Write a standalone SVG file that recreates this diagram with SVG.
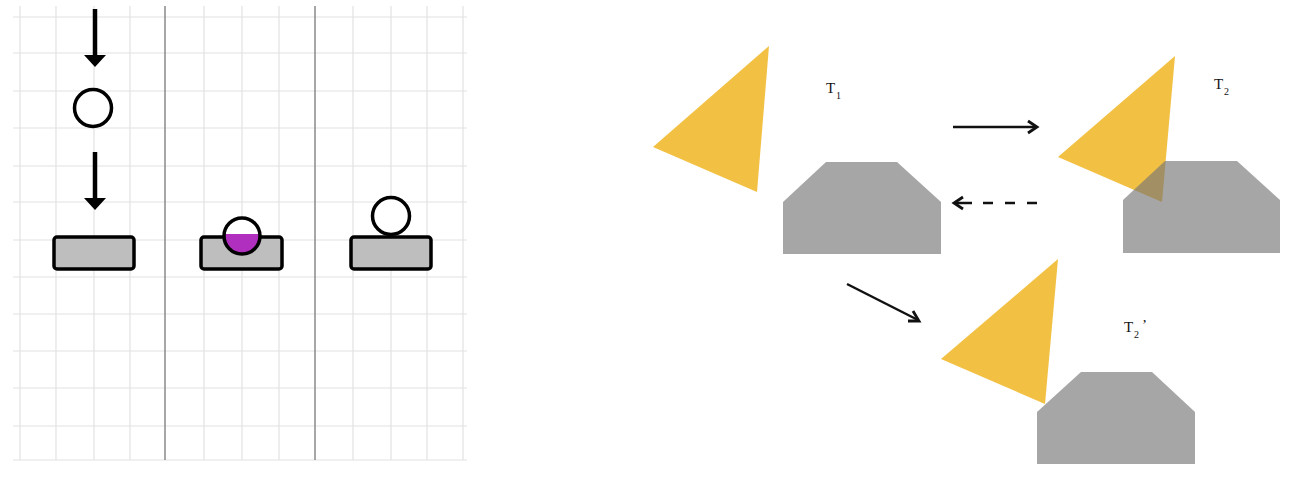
<svg xmlns="http://www.w3.org/2000/svg" width="1290" height="478" viewBox="0 0 1290 478">
<defs>
<style>
.grid{stroke:#e2e2e2;stroke-width:1.2;fill:none}
.div{stroke:#8a8a8a;stroke-width:1.5}
.blk{stroke:#000;stroke-width:4.5;fill:none}
.ball{fill:#fff;stroke:#000;stroke-width:3.5}
.base{fill:#bebebe;stroke:#000;stroke-width:3.5}
.tri{fill:#f2c043}
.blockg{fill:#777777;fill-opacity:0.65}
.lbl{font-family:"Liberation Serif",serif;font-size:15px;fill:#111}
.sub{font-family:"Liberation Serif",serif;font-size:10px;fill:#111}
.conn{stroke:#111;stroke-width:2.5;fill:none}
.head{stroke:#111;stroke-width:2.8;fill:none;stroke-linejoin:miter}
</style>
<clipPath id="ballclip"><circle cx="242" cy="236" r="17.5"/></clipPath>
</defs>
<rect width="1290" height="478" fill="#fff"/>

<g id="grid-panel">
<g class="grid">
<line x1="13" y1="17" x2="467" y2="17"/>
<line x1="13" y1="53" x2="467" y2="53"/>
<line x1="13" y1="91" x2="467" y2="91"/>
<line x1="13" y1="128" x2="467" y2="128"/>
<line x1="13" y1="166" x2="467" y2="166"/>
<line x1="13" y1="202" x2="467" y2="202"/>
<line x1="13" y1="240" x2="467" y2="240"/>
<line x1="13" y1="277" x2="467" y2="277"/>
<line x1="13" y1="314" x2="467" y2="314"/>
<line x1="13" y1="351" x2="467" y2="351"/>
<line x1="13" y1="388" x2="467" y2="388"/>
<line x1="13" y1="426" x2="467" y2="426"/>
<line x1="13" y1="460" x2="467" y2="460"/>
<line x1="20" y1="6" x2="20" y2="460"/>
<line x1="56" y1="6" x2="56" y2="460"/>
<line x1="94" y1="6" x2="94" y2="460"/>
<line x1="130" y1="6" x2="130" y2="460"/>
<line x1="204" y1="6" x2="204" y2="460"/>
<line x1="242" y1="6" x2="242" y2="460"/>
<line x1="279" y1="6" x2="279" y2="460"/>
<line x1="353" y1="6" x2="353" y2="460"/>
<line x1="391" y1="6" x2="391" y2="460"/>
<line x1="427" y1="6" x2="427" y2="460"/>
<line x1="463" y1="6" x2="463" y2="460"/>
</g>
<line class="div" x1="165" y1="6" x2="165" y2="460"/>
<line class="div" x1="315" y1="6" x2="315" y2="460"/>
</g>

<g id="panel1">
<line class="blk" x1="95" y1="9" x2="95" y2="57"/>
<polygon points="84,55 106,55 95,67" fill="#000"/>
<circle class="ball" cx="93" cy="108" r="18.5"/>
<line class="blk" x1="95" y1="152" x2="95" y2="200"/>
<polygon points="84,198 106,198 95,210" fill="#000"/>
<rect class="base" x="54" y="237" width="80" height="32" rx="3"/>
</g>

<g id="panel2">
<rect class="base" x="201" y="237" width="81" height="32" rx="3"/>
<circle cx="242" cy="236" r="17.5" fill="#fff"/>
<rect x="222" y="234" width="40" height="22" fill="#b12fbf" clip-path="url(#ballclip)"/>
<circle cx="242" cy="236" r="18" fill="none" stroke="#000" stroke-width="3.5"/>
</g>

<g id="panel3">
<rect class="base" x="351" y="237" width="80" height="32" rx="3"/>
<circle class="ball" cx="391" cy="216" r="18.5"/>
</g>

<g id="T1">
<polygon class="tri" points="769,46 653,147 757,192"/>
<polygon class="blockg" points="783,254 783,202 826,162 897,162 941,202 941,254"/>
<text class="lbl" x="826" y="93">T</text><text class="sub" x="836" y="99">1</text>
</g>

<g id="T2">
<polygon class="tri" points="1175,56 1058,157 1162,202"/>
<polygon class="blockg" points="1123,253 1123,200 1165,161 1237,161 1280,200 1280,253"/>
<text class="lbl" x="1214" y="89">T</text><text class="sub" x="1224" y="95">2</text>
</g>

<g id="T2p">
<polygon class="tri" points="1058,259 941,359 1045,404"/>
<polygon class="blockg" points="1037,464 1037,412 1081,372 1152,372 1195,412 1195,464"/>
<text class="lbl" x="1124" y="332">T</text><text class="sub" x="1134" y="338">2</text><text class="lbl" x="1142" y="330">’</text>
</g>

<g id="connectors">
<line class="conn" x1="953" y1="127" x2="1036" y2="127"/>
<polyline class="head" points="1028,121 1037,127 1028,133"/>
<line class="conn" x1="983" y1="203" x2="1040" y2="203" stroke-dasharray="10 12"/>
<line class="conn" x1="955" y1="203" x2="972" y2="203"/>
<polyline class="head" points="963,197 954,203 963,209"/>
<line class="conn" x1="847" y1="284" x2="918" y2="320"/>
<polyline class="head" points="908,321 919,321 913,311"/>
</g>
</svg>
